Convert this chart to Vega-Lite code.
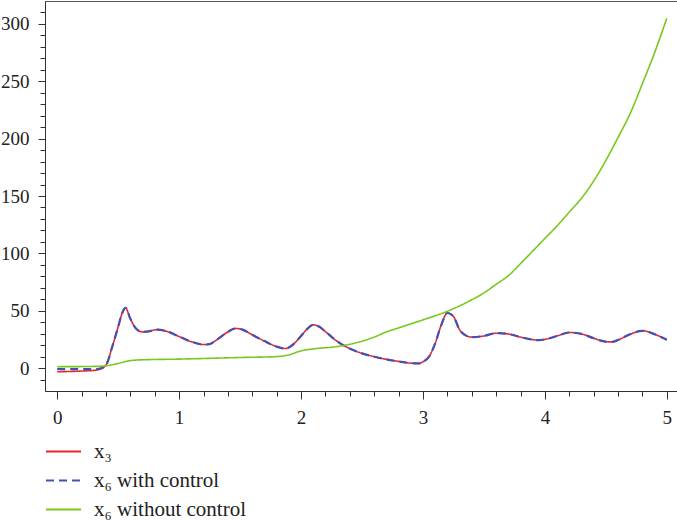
{
  "$schema": "https://vega.github.io/schema/vega-lite/v6.json",
  "width": 634,
  "height": 390,
  "autosize": {"type": "none"},
  "padding": {"left": 45, "top": 1, "right": 0, "bottom": 130},
  "background": "white",
  "config": {
    "view": {"stroke": "#555", "strokeWidth": 1},
    "font": "Liberation Serif"
  },
  "datasets": {
    "x3": [
      {"t": 0, "v": -3.2}, {"t": 0.1, "v": -3.0}, {"t": 0.2, "v": -2.6}, {"t": 0.3, "v": -2.0}, {"t": 0.35, "v": -1.0},
      {"t": 0.4, "v": 2.6}, {"t": 0.45, "v": 18}, {"t": 0.5, "v": 36}, {"t": 0.53, "v": 47}, {"t": 0.56, "v": 52.5},
      {"t": 0.6, "v": 43}, {"t": 0.65, "v": 34}, {"t": 0.7, "v": 31.5}, {"t": 0.75, "v": 32}, {"t": 0.82, "v": 33.5},
      {"t": 0.9, "v": 32}, {"t": 1.0, "v": 27.5}, {"t": 1.1, "v": 23}, {"t": 1.2, "v": 20.5}, {"t": 1.25, "v": 20.8},
      {"t": 1.3, "v": 24}, {"t": 1.4, "v": 31.5}, {"t": 1.46, "v": 34.5}, {"t": 1.52, "v": 33.5}, {"t": 1.6, "v": 29},
      {"t": 1.7, "v": 23.5}, {"t": 1.8, "v": 18.7}, {"t": 1.87, "v": 17}, {"t": 1.95, "v": 22}, {"t": 2.0, "v": 28},
      {"t": 2.05, "v": 34}, {"t": 2.1, "v": 37.7}, {"t": 2.15, "v": 36}, {"t": 2.2, "v": 31.8}, {"t": 2.3, "v": 23},
      {"t": 2.4, "v": 17}, {"t": 2.5, "v": 12.8}, {"t": 2.6, "v": 9.9}, {"t": 2.7, "v": 7.6}, {"t": 2.8, "v": 5.8},
      {"t": 2.9, "v": 4.3}, {"t": 2.97, "v": 4}, {"t": 3.0, "v": 5.5}, {"t": 3.05, "v": 10}, {"t": 3.1, "v": 21.5},
      {"t": 3.15, "v": 37.5}, {"t": 3.2, "v": 48}, {"t": 3.25, "v": 45}, {"t": 3.3, "v": 33.5}, {"t": 3.35, "v": 28.5},
      {"t": 3.4, "v": 27}, {"t": 3.5, "v": 28}, {"t": 3.6, "v": 30.4}, {"t": 3.7, "v": 29.7}, {"t": 3.8, "v": 27},
      {"t": 3.9, "v": 24.8}, {"t": 3.95, "v": 24.3}, {"t": 4.0, "v": 25}, {"t": 4.1, "v": 28}, {"t": 4.2, "v": 31},
      {"t": 4.3, "v": 29.8}, {"t": 4.4, "v": 26}, {"t": 4.5, "v": 23}, {"t": 4.55, "v": 22.8}, {"t": 4.6, "v": 24.5},
      {"t": 4.7, "v": 29.5}, {"t": 4.8, "v": 32.5}, {"t": 4.9, "v": 29.5}, {"t": 5.0, "v": 24.6}
    ],
    "x6c": [
      {"t": 0, "v": -1.0}, {"t": 0.1, "v": -1.0}, {"t": 0.2, "v": -1.0}, {"t": 0.3, "v": -0.9}, {"t": 0.35, "v": -0.5},
      {"t": 0.4, "v": 2.6}, {"t": 0.45, "v": 18}, {"t": 0.5, "v": 36}, {"t": 0.53, "v": 47}, {"t": 0.56, "v": 52.5},
      {"t": 0.6, "v": 43}, {"t": 0.65, "v": 34}, {"t": 0.7, "v": 31.5}, {"t": 0.75, "v": 32}, {"t": 0.82, "v": 33.5},
      {"t": 0.9, "v": 32}, {"t": 1.0, "v": 27.5}, {"t": 1.1, "v": 23}, {"t": 1.2, "v": 20.5}, {"t": 1.25, "v": 20.8},
      {"t": 1.3, "v": 24}, {"t": 1.4, "v": 31.5}, {"t": 1.46, "v": 34.5}, {"t": 1.52, "v": 33.5}, {"t": 1.6, "v": 29},
      {"t": 1.7, "v": 23.5}, {"t": 1.8, "v": 18.7}, {"t": 1.87, "v": 17}, {"t": 1.95, "v": 22}, {"t": 2.0, "v": 28},
      {"t": 2.05, "v": 34}, {"t": 2.1, "v": 37.7}, {"t": 2.15, "v": 36}, {"t": 2.2, "v": 31.8}, {"t": 2.3, "v": 23},
      {"t": 2.4, "v": 17}, {"t": 2.5, "v": 12.8}, {"t": 2.6, "v": 9.9}, {"t": 2.7, "v": 7.6}, {"t": 2.8, "v": 5.8},
      {"t": 2.9, "v": 4.3}, {"t": 2.97, "v": 4}, {"t": 3.0, "v": 5.5}, {"t": 3.05, "v": 10}, {"t": 3.1, "v": 21.5},
      {"t": 3.15, "v": 37.5}, {"t": 3.2, "v": 48}, {"t": 3.25, "v": 45}, {"t": 3.3, "v": 33.5}, {"t": 3.35, "v": 28.5},
      {"t": 3.4, "v": 27}, {"t": 3.5, "v": 28}, {"t": 3.6, "v": 30.4}, {"t": 3.7, "v": 29.7}, {"t": 3.8, "v": 27},
      {"t": 3.9, "v": 24.8}, {"t": 3.95, "v": 24.3}, {"t": 4.0, "v": 25}, {"t": 4.1, "v": 28}, {"t": 4.2, "v": 31},
      {"t": 4.3, "v": 29.8}, {"t": 4.4, "v": 26}, {"t": 4.5, "v": 23}, {"t": 4.55, "v": 22.8}, {"t": 4.6, "v": 24.5},
      {"t": 4.7, "v": 29.5}, {"t": 4.8, "v": 32.5}, {"t": 4.9, "v": 29.5}, {"t": 5.0, "v": 24.6}
    ],
    "x6n": [
      {"t": 0, "v": 1.2}, {"t": 0.2, "v": 1.3}, {"t": 0.35, "v": 1.6}, {"t": 0.4, "v": 2}, {"t": 0.5, "v": 4},
      {"t": 0.6, "v": 6.5}, {"t": 0.7, "v": 7.2}, {"t": 1.0, "v": 7.8}, {"t": 1.5, "v": 9.2}, {"t": 1.8, "v": 10},
      {"t": 1.9, "v": 11.5}, {"t": 2.0, "v": 15}, {"t": 2.1, "v": 16.7}, {"t": 2.3, "v": 18.8}, {"t": 2.45, "v": 22},
      {"t": 2.6, "v": 27}, {"t": 2.7, "v": 31.5}, {"t": 2.8, "v": 35}, {"t": 3.0, "v": 42}, {"t": 3.2, "v": 49.5},
      {"t": 3.4, "v": 59.5}, {"t": 3.5, "v": 65.5}, {"t": 3.6, "v": 73}, {"t": 3.7, "v": 80.5}, {"t": 3.8, "v": 91},
      {"t": 3.9, "v": 102}, {"t": 4.0, "v": 113}, {"t": 4.1, "v": 124}, {"t": 4.2, "v": 136}, {"t": 4.3, "v": 148},
      {"t": 4.4, "v": 163}, {"t": 4.5, "v": 181}, {"t": 4.6, "v": 201}, {"t": 4.7, "v": 222}, {"t": 4.8, "v": 248},
      {"t": 4.9, "v": 275}, {"t": 5.0, "v": 305}
    ]
  },
  "encoding": {
    "x": {
      "field": "t", "type": "quantitative",
      "scale": {"domain": [-0.1, 5.1], "nice": false, "zero": false},
      "axis": {
        "title": null, "grid": false,
        "values": [0, 0.2, 0.4, 0.6, 0.8, 1, 1.2, 1.4, 1.6, 1.8, 2, 2.2, 2.4, 2.6, 2.8, 3, 3.2, 3.4, 3.6, 3.8, 4, 4.2, 4.4, 4.6, 4.8, 5],
        "labelExpr": "datum.value % 1 === 0 ? '' + datum.value : ''",
        "tickSize": {"condition": {"test": "datum.value % 1 === 0", "value": 8}, "value": 5},
        "labelPadding": 9, "labelOverlap": false, "labelFlush": false,
        "labelFont": "Liberation Serif", "labelFontSize": 19, "labelColor": "#222",
        "domainColor": "#333", "tickColor": "#333"
      }
    },
    "y": {
      "field": "v", "type": "quantitative",
      "scale": {"domain": [-20, 320], "nice": false, "zero": false},
      "axis": {
        "title": null, "grid": false,
        "values": [-10, 0, 10, 20, 30, 40, 50, 60, 70, 80, 90, 100, 110, 120, 130, 140, 150, 160, 170, 180, 190, 200, 210, 220, 230, 240, 250, 260, 270, 280, 290, 300, 310],
        "labelExpr": "datum.value % 50 === 0 ? datum.label : ''",
        "tickSize": {"condition": {"test": "datum.value % 50 === 0", "value": 7}, "value": 5},
        "labelPadding": 9, "labelOverlap": false, "labelFlush": false,
        "labelFont": "Liberation Serif", "labelFontSize": 19, "labelColor": "#222",
        "domainColor": "#333", "tickColor": "#333"
      }
    },
    "color": {
      "field": "s", "type": "nominal",
      "scale": {"domain": ["x₃", "x₆ with control", "x₆ without control"], "range": ["#e6262d", "#4450b5", "#78c81c"]},
      "legend": {
        "title": null, "orient": "none", "legendX": 0, "legendY": 432, "padding": 0,
        "symbolType": "stroke", "symbolSize": 1225, "symbolStrokeWidth": 2,
        "labelFont": "Liberation Serif", "labelFontSize": 21, "labelColor": "#222",
        "labelOffset": 12, "rowPadding": -1
      }
    },
    "strokeDash": {
      "field": "s", "type": "nominal",
      "scale": {"domain": ["x₃", "x₆ with control", "x₆ without control"], "range": [[1, 0], [8, 5], [1, 0]]},
      "legend": {
        "title": null, "orient": "none", "legendX": 0, "legendY": 432, "padding": 0,
        "symbolType": "stroke", "symbolSize": 1225, "symbolStrokeWidth": 2,
        "labelFont": "Liberation Serif", "labelFontSize": 21, "labelColor": "#222",
        "labelOffset": 12, "rowPadding": -1
      }
    }
  },
  "layer": [
    {
      "data": {"name": "x3"},
      "mark": {"type": "line", "interpolate": "monotone", "strokeWidth": 1.6, "clip": true},
      "encoding": {"color": {"datum": "x₃", "type": "nominal"}, "strokeDash": {"datum": "x₃", "type": "nominal"}}
    },
    {
      "data": {"name": "x6c"},
      "mark": {"type": "line", "interpolate": "monotone", "strokeWidth": 2.2, "clip": true},
      "encoding": {"color": {"datum": "x₆ with control", "type": "nominal"}, "strokeDash": {"datum": "x₆ with control", "type": "nominal"}}
    },
    {
      "data": {"name": "x6n"},
      "mark": {"type": "line", "interpolate": "monotone", "strokeWidth": 1.6, "clip": true},
      "encoding": {"color": {"datum": "x₆ without control", "type": "nominal"}, "strokeDash": {"datum": "x₆ without control", "type": "nominal"}}
    }
  ]
}
